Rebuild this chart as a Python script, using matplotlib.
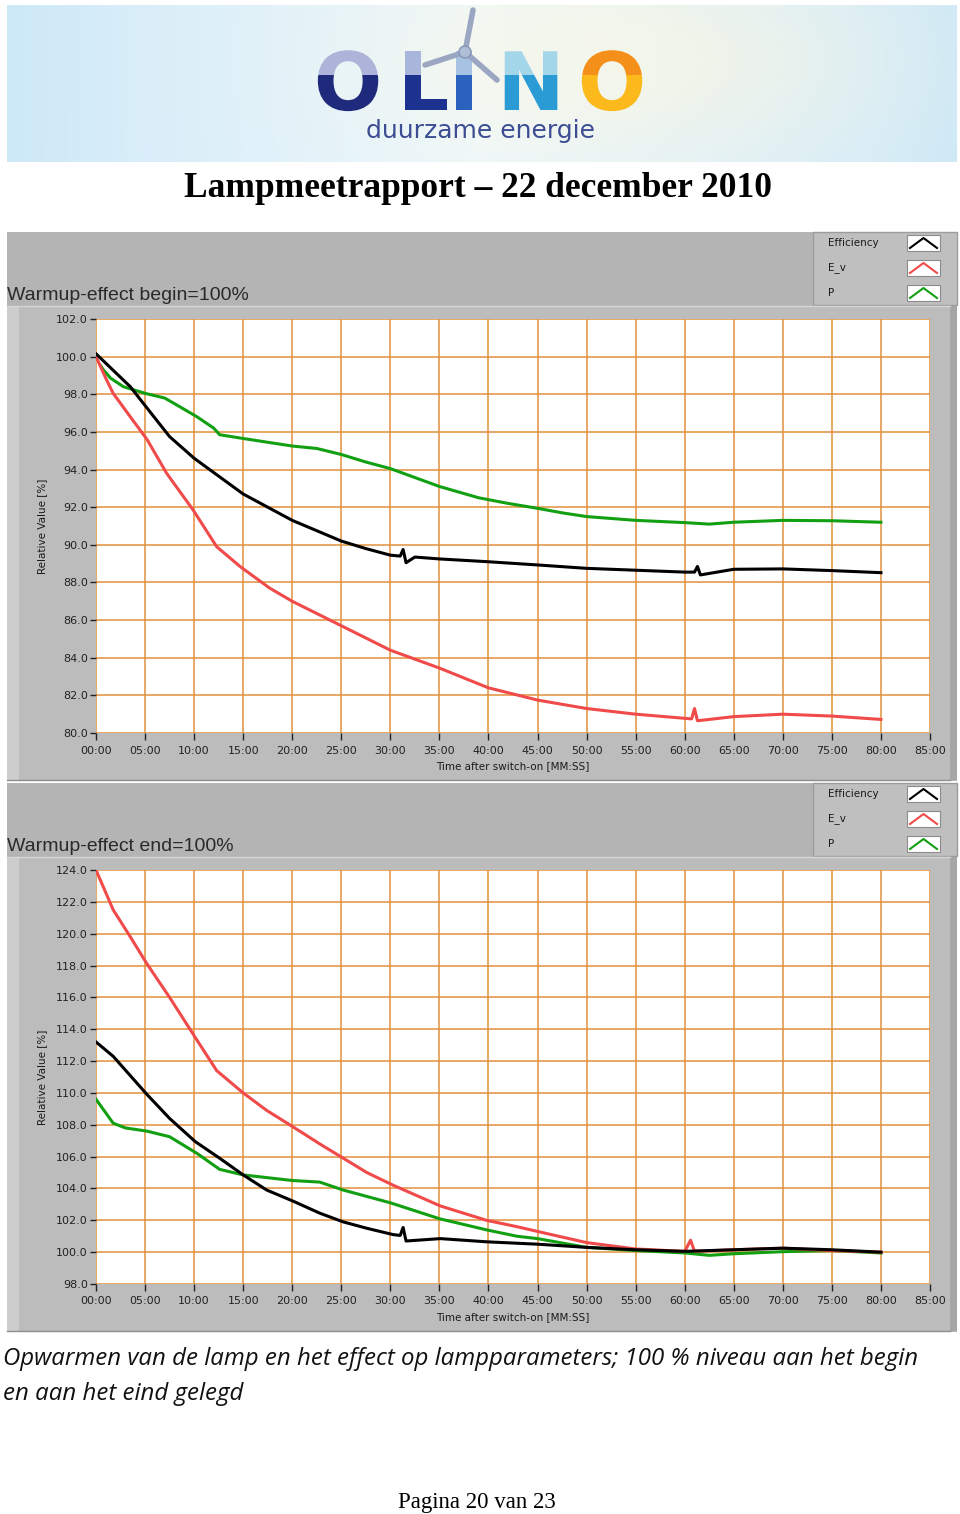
import numpy as np
import matplotlib
matplotlib.use('Agg')
import matplotlib.pyplot as plt
from matplotlib.patches import Rectangle, Circle
from matplotlib.patheffects import AbstractPathEffect
from matplotlib.transforms import Bbox
from matplotlib.colors import to_rgba

# ---- data read from the report (time in minutes, values in %) ----
# warmup-effect begin = 100%
t_eff_b = [0, 1, 2, 3.5, 5, 7.5, 10, 12.5, 15, 17.5, 20, 22.5, 25, 27.5, 30, 31, 31.3, 31.6, 32.5,
           35, 40, 45, 50, 55, 60, 61, 61.3, 61.6, 65, 70, 75, 80]
eff_b = [100.15, 99.65, 99.15, 98.4, 97.4, 95.75, 94.6, 93.65, 92.7, 92.0, 91.3, 90.75, 90.2, 89.8,
         89.45, 89.4, 89.75, 89.05, 89.35, 89.25, 89.1, 88.93, 88.75, 88.65, 88.55, 88.55, 88.85,
         88.4, 88.7, 88.72, 88.63, 88.52]
t_ev_b = [0, 1, 1.75, 3.5, 5.2, 7.2, 9.9, 12.3, 14.7, 17.7, 20, 25, 30, 35, 40, 45, 50, 55, 60,
          60.7, 61.0, 61.3, 65, 70, 75, 80]
ev_b = [100.0, 98.85, 98.05, 96.8, 95.6, 93.8, 91.85, 89.9, 88.84, 87.7, 87.0, 85.7, 84.4, 83.45,
        82.4, 81.75, 81.3, 81.0, 80.78, 80.75, 81.3, 80.65, 80.87, 81.0, 80.9, 80.72]
t_p_b = [0.5, 0.75, 1.5, 2.8, 5, 7, 8.5, 10.3, 12, 12.6, 15, 17.5, 20, 22.5, 25, 27.5, 30, 35, 39,
         42, 45, 47.5, 50, 55, 60, 62.5, 65, 70, 75, 80]
p_b = [99.5, 99.3, 98.85, 98.4, 98.05, 97.8, 97.35, 96.8, 96.2, 95.85, 95.65, 95.45, 95.25, 95.12,
       94.8, 94.4, 94.05, 93.1, 92.5, 92.2, 91.94, 91.7, 91.5, 91.3, 91.18, 91.1, 91.2, 91.3, 91.28, 91.2]

# warmup-effect end = 100%
t_eff_e = [0, 1.75, 5.2, 7.5, 10.1, 12.6, 15, 17.4, 20.1, 22.8, 25.2, 27.6, 30.3, 31, 31.3, 31.6,
           35.1, 39.8, 45, 50, 55, 60, 65, 70, 75, 80]
eff_e = [113.2, 112.3, 109.9, 108.4, 106.95, 105.9, 104.85, 103.9, 103.2, 102.45, 101.9, 101.5,
         101.1, 101.05, 101.55, 100.7, 100.85, 100.65, 100.5, 100.3, 100.15, 100.05, 100.15, 100.25,
         100.15, 100.0]
t_ev_e = [0, 1.75, 3.5, 5.2, 7.5, 10.1, 12.3, 15, 17.4, 20, 22.8, 25.2, 27.6, 30.3, 35.1, 39.8,
          42.9, 45, 50, 55, 60, 60.6, 61, 65, 70, 75, 80]
ev_e = [124.0, 121.5, 119.8, 118.1, 116.0, 113.5, 111.4, 110.0, 108.9, 107.9, 106.8, 105.9, 105.0,
        104.2, 102.9, 102.0, 101.6, 101.3, 100.6, 100.2, 100.05, 100.75, 100.05, 100.15, 100.25,
        100.1, 100.0]
t_p_e = [0, 1.75, 3, 5.2, 7.5, 10.3, 12.6, 15, 20, 22.8, 25.2, 30, 35, 39.8, 42.9, 45, 50, 55, 60,
         62.5, 65, 70, 75, 80]
p_e = [109.6, 108.1, 107.8, 107.6, 107.25, 106.2, 105.2, 104.85, 104.5, 104.4, 103.9, 103.1, 102.1,
       101.4, 101.0, 100.85, 100.3, 100.1, 99.95, 99.8, 99.9, 100.03, 100.1, 99.95]

legend_names = ['Efficiency', 'E_v', 'P']
colors = {'Efficiency': '#000000', 'E_v': '#f04a4a', 'P': '#12a012'}
x_ticks = list(range(0, 86, 5))
x_labels = [f'{m:02d}:00' for m in x_ticks]

W, H = 960, 1514
fig = plt.figure(figsize=(W / 100, H / 100), dpi=100)
bg = fig.add_axes([0, 0, 1, 1], zorder=0)


class TwoTone(AbstractPathEffect):
    # fill the glyph with one colour above a pixel row and another below it
    def __init__(self, top, bottom, split):
        super().__init__()
        self.top, self.bottom, self.split = top, bottom, split

    def draw_path(self, renderer, gc, tpath, affine, rgbFace=None):
        for c, box in ((self.bottom, Bbox.from_extents(0, 0, W, self.split)),
                       (self.top, Bbox.from_extents(0, self.split, W, H))):
            gc0 = renderer.new_gc()
            gc0.copy_properties(gc)
            gc0.set_clip_rectangle(box)
            renderer.draw_path(gc0, tpath, affine, to_rgba(c))
            gc0.restore()


# ---- logo banner ----
xs = np.linspace(0, 1, 480)
ys = np.linspace(0, 1, 80)
X, Y = np.meshgrid(xs, ys)
edge = np.array([0.80, 0.91, 0.97])
centre = np.array([0.93, 0.97, 0.99])
w = (1 - np.abs(X - 0.5) * 2) ** 0.8
img = edge + (centre - edge) * w[..., None]
r2 = ((X - 0.66) * 3.0) ** 2 + ((Y - 0.35) * 1.2) ** 2
glow = 0.55 * np.exp(-r2 * 1.5)
img = img * (1 - glow[..., None]) + np.array([1.0, 0.97, 0.86]) * glow[..., None]
bg.imshow(np.clip(img, 0, 1), extent=(7, 957, 162, 5), aspect='auto', zorder=0)
bg.set_xlim(0, W)
bg.set_ylim(H, 0)
bg.axis('off')

logo_letters = [(348, 'O', '#aeb3d9', '#1f2a7c', 'center'),
                (398, 'L', '#a9b5da', '#1d3190', 'left'),
                (464, 'I', '#a7c3e3', '#2a62bd', 'center'),
                (531, 'N', '#a4d6ea', '#2b9bd6', 'center'),
                (612, 'O', '#f4901a', '#fcb91c', 'center')]
for x, ch, top_c, bot_c, ha in logo_letters:
    bg.text(x, 110, ch, color=bot_c, fontsize=58, fontweight='bold', family='DejaVu Sans',
            ha=ha, va='baseline', zorder=3,
            path_effects=[TwoTone(top_c, bot_c, H - 75)])
# wind turbine
for bx, by in ((473, 10), (425, 65), (497, 80)):
    bg.plot([465, bx], [52, by], color='#9ba7c2', lw=4, solid_capstyle='round', zorder=4)
bg.add_patch(Circle((465, 52), 6, fc='#b0bfd6', ec='#8494b4', lw=1, zorder=5))
bg.text(480, 138, 'duurzame energie', color='#3d4d94', fontsize=18, family='DejaVu Sans',
        ha='center', va='baseline', zorder=3)

bg.text(478, 197, 'Lampmeetrapport \u2013 22 december 2010', family='Liberation Serif',
        fontweight='bold', fontsize=25.5, ha='center', va='baseline')


def panel(y0, title, series, ylim, yticks):
    bg.add_patch(Rectangle((7, y0), 950, 549, fc='#b4b4b4', ec='none', zorder=1))
    bg.add_patch(Rectangle((7, y0 + 74), 943, 474, fc='#bcbcbc', ec='none', zorder=1))
    bg.add_patch(Rectangle((7, y0 + 74), 12, 474, fc='#cdcdcd', ec='none', zorder=1))
    bg.add_patch(Rectangle((950, y0 + 74), 7, 474, fc='#a6a6a6', ec='none', zorder=1))
    bg.plot([7, 950], [y0 + 74, y0 + 74], color='#d6d6d6', lw=1, zorder=2)
    bg.plot([7, 950], [y0 + 548, y0 + 548], color='#8e8e8e', lw=1, zorder=2)
    bg.add_patch(Rectangle((813, y0), 144, 73, fc='#bfbfbf', ec='#9c9c9c', lw=1, zorder=1))
    bg.text(7, y0 + 68, title, fontsize=14, family='Liberation Sans', color='#2a2a2a',
            va='baseline', zorder=2)

    # legend
    for i, name in enumerate(legend_names):
        ry = y0 + 11 + 25 * i
        bg.text(828, ry, name, fontsize=7.5, color='#1a1a1a', va='center', zorder=2)
        bg.add_patch(Rectangle((907, ry - 8), 33, 16, fc='white', ec='#8c8c8c', lw=0.8, zorder=2))
        bg.plot([910, 923.5, 937], [ry + 5, ry - 5, ry + 5], color=colors[name], lw=1.5, zorder=3)

    ax = fig.add_axes([96 / W, 1 - (y0 + 501) / H, 834 / W, 414 / H], zorder=2)
    ax.set_facecolor('white')
    for name in ['P', 'E_v', 'Efficiency']:
        t, v = series[name]
        ax.plot(t, v, color=colors[name], lw=2.2)
    ax.set_xlim(0, 85)
    ax.set_ylim(*ylim)
    ax.set_xticks(x_ticks)
    ax.set_xticklabels(x_labels)
    ax.set_yticks(yticks)
    ax.set_yticklabels([f'{v:.1f}' for v in yticks])
    ax.grid(True, color='#e3913c', lw=1.1)
    ax.set_axisbelow(True)
    for s in ax.spines.values():
        s.set_visible(False)
    ax.tick_params(direction='out', length=4, width=1, colors='#222222', labelsize=8, pad=2)
    ax.tick_params(axis='x', length=5, pad=4)
    ax.set_xlabel('Time after switch-on [MM:SS]', fontsize=7.5, color='#1a1a1a', labelpad=4)
    ax.set_ylabel('Relative Value [%]', fontsize=7.5, color='#1a1a1a', labelpad=6)
    return ax


panel(232, 'Warmup-effect begin=100%',
      {'Efficiency': (t_eff_b, eff_b), 'E_v': (t_ev_b, ev_b), 'P': (t_p_b, p_b)},
      (80, 102), np.arange(80, 102.1, 2))
panel(783, 'Warmup-effect end=100%',
      {'Efficiency': (t_eff_e, eff_e), 'E_v': (t_ev_e, ev_e), 'P': (t_p_e, p_e)},
      (98, 124), np.arange(98, 124.1, 2))

bg.text(3, 1365, 'Opwarmen van de lamp en het effect op lampparameters; 100 % niveau aan het begin',
        family='Open Sans', style='italic', fontsize=17.3, va='baseline', color='#111111')
bg.text(3, 1400, 'en aan het eind gelegd', family='Open Sans', style='italic', fontsize=17.3,
        va='baseline', color='#111111')
bg.text(477, 1508, 'Pagina 20 van 23', family='Liberation Serif', fontsize=16.5, ha='center',
        va='baseline')

fig.savefig('out.png', dpi=100)
